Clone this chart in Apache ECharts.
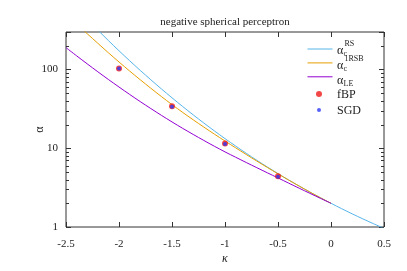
<!DOCTYPE html>
<html><head><meta charset="utf-8">
<script src="https://cdn.jsdelivr.net/npm/echarts@6/dist/echarts.min.js"></script>
<style>html,body{margin:0;padding:0;background:#fff}#c{width:407px;height:271px}</style>
</head><body><div id="c"></div>
<script>
// ---- data ----
const kappaRS = [-2.3,-2.2,-2.1,-2.0,-1.9,-1.8,-1.7,-1.6,-1.5,-1.4,-1.3,-1.2,-1.1,-1.0,-0.9,-0.8,-0.7,-0.6,-0.5,-0.4,-0.3,-0.2,-0.1,0.0,0.1,0.2,0.3,0.4,0.5];
const alphaRS = [434,317.3,233.6,173.35,129.6,97.7,74.2,56.78,43.77,33.99,26.59,20.94,16.62,13.26,10.68,8.644,7.045,5.779,4.770,3.962,3.311,2.783,2.353,2.0,1.710,1.469,1.269,1.102,0.961];
const kappa1RSB = [-2.4,-2.3,-2.2,-2.1,-2.0,-1.9,-1.8,-1.7,-1.6,-1.5,-1.4,-1.3,-1.2,-1.1,-1.0,-0.9,-0.8,-0.7,-0.6,-0.5,-0.4,-0.3,-0.2,-0.1,0.0];
const alpha1RSB = [378,285.6,215.8,163.5,124.8,95.9,74.3,57.9,45.4,35.9,28.6,23.0,18.6,15.12,12.36,10.15,8.34,6.88,5.70,4.74,3.95,3.31,2.783,2.353,2.0];
const kappaLE = [-2.5,-2.4,-2.3,-2.2,-2.1,-2.0,-1.9,-1.8,-1.7,-1.6,-1.5,-1.4,-1.3,-1.2,-1.1,-1.0,-0.9,-0.8,-0.7,-0.6,-0.5,-0.4,-0.3,-0.2,-0.1,0.0];
const alphaLE = [190.0,149.5,118.2,93.79,74.83,60.00,48.39,39.21,31.98,26.21,21.61,17.94,14.99,12.58,10.61,9.000,7.700,6.600,5.670,4.875,4.200,3.612,3.108,2.681,2.314,2.000];
const kappaPts = [-2.0,-1.5,-1.0,-0.5];
const fbpVals = [103,34.3,11.5,4.42];
const sgdVals = [103,33.7,11.3,4.36];
const yLabelVals = [1,10,100];
const yMinorTicks = [2,3,4,5,6,7,8,9,20,30,40,50,60,70,80,90,200];
const seriesNames = ['RS','1RSB','LE','fBP','SGD'];

const FONT = '"Liberation Serif", "Times New Roman", serif';
const TXT = '#222';
const X_MIN = -2.5, X_MAX = 0.5;
const zip = (xs, ys) => xs.map((x, i) => [x, ys[i]]);

const chart = echarts.init(document.getElementById('c'), null, {renderer: 'canvas'});

const yBase = {
  type: 'log', logBase: 10, min: 1, max: 300,
  axisLine: {show: false, onZero: false},
  splitLine: {show: false},
  axisTick: {inside: true, length: 5, lineStyle: {color: '#333'}}
};
const xBase = {
  type: 'value', min: X_MIN, max: X_MAX, interval: 0.5,
  axisLine: {show: false, onZero: false},
  splitLine: {show: false},
  axisTick: {inside: true, length: 5, lineStyle: {color: '#333'}}
};

const labelText = (id, x, y, text, size) => ({
  id: id, type: 'text', x: x, y: y,
  style: {text: text, font: size + 'px ' + FONT, fill: TXT, verticalAlign: 'middle'}
});

const option = {
  animation: false,
  backgroundColor: '#fff',
  title: {
    text: 'negative spherical perceptron',
    left: 225, top: 17, textAlign: 'center', padding: 0,
    textStyle: {fontFamily: FONT, fontSize: 11, fontWeight: 'normal', color: TXT}
  },
  grid: {left: 66, right: 23, top: 32, bottom: 44, show: true, borderColor: '#333', borderWidth: 1, backgroundColor: 'transparent'},
  xAxis: [
    Object.assign({}, xBase, {
      position: 'bottom',
      name: 'κ', nameLocation: 'middle', nameGap: 26, nameMoveOverlap: false,
      nameTextStyle: {fontFamily: FONT, fontSize: 12, fontStyle: 'italic', color: TXT},
      axisLabel: {margin: 12, fontFamily: FONT, fontSize: 11, color: TXT, formatter: v => String(Math.round(v * 10) / 10)}
    }),
    Object.assign({}, xBase, {position: 'top', axisLabel: {show: false}})
  ],
  yAxis: [
    Object.assign({}, yBase, {
      position: 'left',
      name: 'α', nameLocation: 'middle', nameGap: 20, nameMoveOverlap: false,
      nameTextStyle: {fontFamily: FONT, fontSize: 12, color: TXT},
      axisLabel: {margin: 8, fontFamily: FONT, fontSize: 11, color: TXT,
        formatter: v => yLabelVals.indexOf(Math.round(v)) >= 0 ? String(Math.round(v)) : ''}
    }),
    Object.assign({}, yBase, {position: 'right', axisLabel: {show: false}})
  ],
  legend: [
    {data: seriesNames.slice(0, 3), orient: 'vertical', left: 307, top: 42, padding: 0,
     itemWidth: 25, itemHeight: 14, itemGap: 1.3, selectedMode: false,
     itemStyle: {opacity: 0, borderWidth: 0}, lineStyle: {width: 1},
     formatter: () => '', textStyle: {fontSize: 10}},
    {data: [seriesNames[3]], left: 316, top: 91, padding: 0, itemWidth: 6, itemHeight: 6,
     selectedMode: false, formatter: () => '', textStyle: {fontSize: 6}},
    {data: [seriesNames[4]], left: 317, top: 108, padding: 0, itemWidth: 4, itemHeight: 4,
     selectedMode: false, formatter: () => '', textStyle: {fontSize: 4}}
  ],
  graphic: [
    labelText('l1a', 337, 50.5, 'α', 12), labelText('l1b', 343.5, 54, 'c', 8), labelText('l1c', 344.5, 43.5, 'RS', 8),
    labelText('l2a', 337, 65.5, 'α', 12), labelText('l2b', 343.5, 69, 'c', 8), labelText('l2c', 344.5, 58.5, '1RSB', 8),
    labelText('l3a', 337, 80.5, 'α', 12), labelText('l3b', 343.5, 84, 'LE', 8),
    labelText('l4a', 337, 95, 'fBP', 12),
    labelText('l5a', 337, 110.5, 'SGD', 12)
  ],
  series: [
    {name: seriesNames[0], type: 'line', data: zip(kappaRS, alphaRS), showSymbol: false, symbol: 'none',
     smooth: 0.3, color: '#56B4E9', lineStyle: {width: 1, color: '#56B4E9'}, z: 2},
    {name: seriesNames[1], type: 'line', data: zip(kappa1RSB, alpha1RSB), showSymbol: false, symbol: 'none',
     smooth: 0.3, color: '#E69F00', lineStyle: {width: 1, color: '#E69F00'}, z: 2},
    {name: seriesNames[2], type: 'line', data: zip(kappaLE, alphaLE), showSymbol: false, symbol: 'none',
     smooth: 0.3, color: '#9400D3', lineStyle: {width: 1, color: '#9400D3'}, z: 2},
    {name: seriesNames[3], type: 'scatter', data: zip(kappaPts, fbpVals), symbol: 'circle', symbolSize: 6,
     itemStyle: {color: '#F01818'}, z: 3},
    {name: seriesNames[4], type: 'scatter', data: zip(kappaPts, sgdVals), symbol: 'circle', symbolSize: 4,
     itemStyle: {color: '#2A3AF5'}, z: 4}
  ]
};
chart.setOption(option);

// minor ticks of the log axis (2..9 per decade), placed through the axis scale
const xl = chart.convertToPixel({xAxisIndex: 0}, X_MIN);
const xr = chart.convertToPixel({xAxisIndex: 0}, X_MAX);
const minorGraphics = [];
yMinorTicks.forEach((v, i) => {
  const y = Math.round(chart.convertToPixel({yAxisIndex: 0}, v)) + 0.5;
  minorGraphics.push({id: 'ml' + i, type: 'line', z: 10, silent: true,
    shape: {x1: xl, y1: y, x2: xl + 3, y2: y}, style: {stroke: '#333', lineWidth: 1}});
  minorGraphics.push({id: 'mr' + i, type: 'line', z: 10, silent: true,
    shape: {x1: xr, y1: y, x2: xr - 3, y2: y}, style: {stroke: '#333', lineWidth: 1}});
});
chart.setOption({graphic: minorGraphics});
</script>
</body></html>
